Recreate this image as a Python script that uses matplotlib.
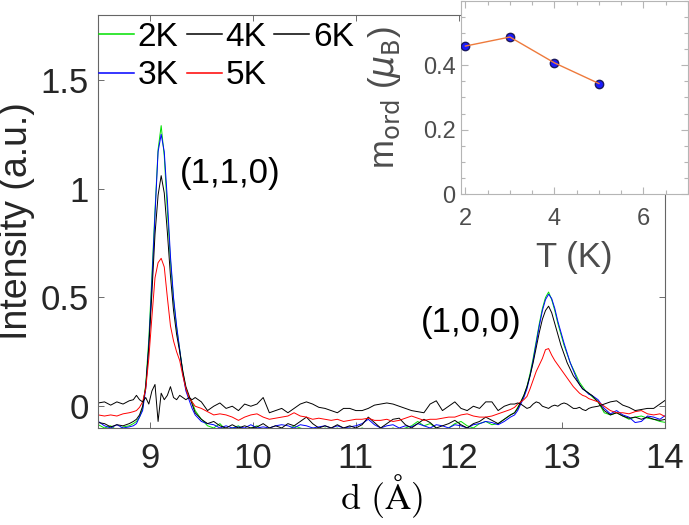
import numpy as np
import matplotlib
matplotlib.use('Agg')
from matplotlib import pyplot as plt
from matplotlib.ticker import MultipleLocator

plt.rcParams['font.family'] = ['Liberation Sans', 'DejaVu Sans']

# sampling grid of the d axis (finer across the two Bragg peaks)
d = np.round(np.concatenate([
    np.arange(8.50, 8.81, 0.06),
    np.arange(8.84, 9.45, 0.03),
    np.arange(9.50, 12.51, 0.06),
    np.arange(12.54, 13.30, 0.03),
    np.arange(13.35, 14.02, 0.06)]), 2)

# intensities, one list per temperature
I_2K = [-0.085, -0.10, -0.09, -0.11, -0.095, -0.09,
        -0.08, -0.07, -0.05, -0.01, 0.10, 0.31, 0.60, 0.90, 1.18, 1.29, 1.15,
        0.90, 0.67, 0.49, 0.36, 0.26, 0.16, 0.08, 0.04, 0.02, -0.02,
        -0.06, -0.09, -0.10, -0.08, -0.11, -0.10, -0.09, -0.11, -0.10, -0.09,
        -0.11, -0.10, -0.12, -0.10, -0.11, -0.09, -0.10, -0.11, -0.10, -0.12,
        -0.10, -0.11, -0.10, -0.12, -0.10, -0.11, -0.10, -0.11, -0.12, -0.10,
        -0.11, -0.10, -0.11, -0.10, -0.09, -0.07, -0.09, -0.08, -0.10, -0.11,
        -0.10, -0.08, -0.07, -0.09, -0.10, -0.08, -0.07, -0.085, -0.08, -0.06,
        -0.04,
        -0.03, -0.005, 0.02, 0.05, 0.09, 0.15, 0.22, 0.30, 0.38, 0.45, 0.50,
        0.525, 0.49, 0.44, 0.38, 0.33, 0.28, 0.24, 0.20, 0.17, 0.14, 0.11,
        0.09, 0.07, 0.06, 0.045,
        0.02, -0.03, -0.04, -0.03, -0.045, -0.06, -0.05, -0.045, -0.055,
        -0.06, -0.07, -0.075]
I_3K = [-0.07, -0.09, -0.10, -0.085, -0.10, -0.095,
        -0.09, -0.08, -0.05, -0.02, 0.08, 0.28, 0.57, 0.88, 1.17, 1.25, 1.17,
        0.95, 0.69, 0.50, 0.37, 0.26, 0.15, 0.07, 0.03, -0.01, -0.04,
        -0.07, -0.08, -0.085, -0.10, -0.09, -0.10, -0.095, -0.10, -0.085,
        -0.10, -0.095, -0.10, -0.09, -0.085, -0.09, -0.10, -0.085, -0.09,
        -0.10, -0.095, -0.09, -0.10, -0.09, -0.10, -0.095, -0.09, -0.08,
        -0.06, -0.085, -0.10, -0.09, -0.085, -0.10, -0.09, -0.095, -0.08,
        -0.09, -0.10, -0.085, -0.09, -0.10, -0.085, -0.09, -0.10, -0.085,
        -0.08, -0.07, -0.075, -0.085, -0.07, -0.05,
        -0.04, -0.02, 0.01, 0.04, 0.08, 0.14, 0.21, 0.29, 0.37, 0.44, 0.49,
        0.515, 0.495, 0.45, 0.39, 0.34, 0.29, 0.245, 0.20, 0.165, 0.13, 0.10,
        0.08, 0.07, 0.055, 0.05,
        0.03, -0.01, -0.035, -0.02, -0.04, -0.05, -0.075, -0.07, -0.045,
        -0.05, -0.06, -0.04]
I_4K = [-0.075, -0.08, -0.095, -0.085, -0.09, -0.08,
        -0.07, -0.06, -0.04, 0.00, 0.09, 0.27, 0.52, 0.79, 0.97, 1.06, 0.98,
        0.80, 0.60, 0.44, 0.33, 0.25, 0.16, 0.09, 0.05, 0.01, -0.03,
        -0.06, -0.08, -0.07, -0.09, -0.10, -0.085, -0.10, -0.09, -0.10,
        -0.095, -0.08, -0.10, -0.09, -0.10, -0.08, -0.09, -0.07, -0.05,
        -0.08, -0.10, -0.09, -0.10, -0.085, -0.10, -0.09, -0.10, -0.085,
        -0.05, -0.075, -0.10, -0.08, -0.06, -0.055, -0.085, -0.10, -0.08,
        -0.06, -0.075, -0.10, -0.09, -0.08, -0.065, -0.085, -0.10, -0.08,
        -0.07, -0.05, -0.065, -0.08, -0.06, -0.04,
        -0.03, -0.01, 0.02, 0.05, 0.09, 0.14, 0.20, 0.27, 0.34, 0.40, 0.44,
        0.46, 0.43, 0.38, 0.33, 0.28, 0.24, 0.20, 0.17, 0.14, 0.12, 0.10,
        0.08, 0.07, 0.06, 0.05,
        0.02, -0.02, -0.04, -0.03, -0.045, -0.055, -0.05, -0.06, -0.05,
        -0.06, -0.065, -0.06]
I_5K = [-0.04, -0.045, -0.04, -0.045, -0.035, -0.03,
        -0.025, -0.02, -0.005, 0.02, 0.08, 0.22, 0.41, 0.59, 0.66, 0.68, 0.64,
        0.50, 0.37, 0.30, 0.25, 0.21, 0.14, 0.08, 0.04, 0.02, 0.00,
        -0.01, -0.025, -0.04, -0.035, -0.04, -0.05, -0.065, -0.05, -0.04,
        -0.035, -0.05, -0.06, -0.055, -0.05, -0.045, -0.03, -0.045, -0.05,
        -0.06, -0.055, -0.06, -0.065, -0.06, -0.07, -0.065, -0.06, -0.06,
        -0.055, -0.065, -0.065, -0.06, -0.07, -0.065, -0.055, -0.045, -0.055,
        -0.065, -0.06, -0.06, -0.055, -0.05, -0.05, -0.04, -0.035, -0.045,
        -0.05, -0.05, -0.045, -0.035, -0.025, -0.015,
        -0.005, 0.01, 0.02, 0.03, 0.045, 0.08, 0.12, 0.16, 0.19, 0.22, 0.26,
        0.265, 0.235, 0.21, 0.19, 0.17, 0.15, 0.13, 0.11, 0.09, 0.075, 0.06,
        0.05, 0.045, 0.035, 0.03,
        0.02, 0.00, -0.02, -0.03, -0.03, -0.035, -0.025, -0.02, -0.035,
        -0.04, -0.035, -0.05]
I_6K = [0.015, 0.02, 0.005, 0.02, 0.01, 0.025,
        0.03, 0.05, 0.03, 0.02, 0.04, 0.01, 0.07, 0.10, -0.07, 0.06, 0.03,
        0.05, 0.09, 0.04, 0.03, 0.05, 0.04, 0.03, 0.04, 0.03, 0.04,
        0.02, -0.02, 0.00, 0.015, -0.01, 0.00, -0.02, 0.01, 0.00, 0.01,
        0.04, -0.03, -0.02, -0.01, -0.03, -0.01, 0.01, 0.02, 0.01, -0.005,
        -0.01, -0.02, -0.03, -0.01, -0.01, -0.02, -0.02, -0.01, 0.005, 0.01,
        0.015, 0.01, 0.00, -0.01, -0.02, -0.025, -0.03, 0.01, 0.025, -0.02,
        0.00, 0.02, -0.01, -0.02, 0.00, -0.01, 0.02, 0.02, -0.02, 0.00, 0.01,
        0.01, 0.015, 0.01, 0.00, -0.01, -0.005, 0.01, 0.02, 0.015, 0.00,
        -0.005, -0.01, 0.00, 0.005, 0.00, 0.01, 0.015, 0.01, 0.00, -0.01,
        -0.01, -0.005, -0.015, -0.02, -0.01, -0.005,
        0.00, 0.01, 0.02, 0.025, 0.005, -0.005, -0.02, -0.015, -0.01, -0.01,
        0.01, 0.03]

labels = ['2K', '3K', '4K', '5K', '6K']
colors = ['#00e000', '#0000ff', '#000000', '#ff0000', '#000000']

# ordered moment vs temperature (inset)
T = [2, 3, 4, 5]
m_ord = [0.459, 0.487, 0.407, 0.343]
m_err = [0.004, 0.008, 0.008, 0.004]

fig = plt.figure(figsize=(6.89, 5.25), dpi=100)
ax = fig.add_axes([0.1427, 0.1848, 0.8225, 0.7872])
for y, lab, c in zip([I_2K, I_3K, I_4K, I_5K, I_6K], labels, colors):
    ax.plot(d, y, color=c, lw=0.7, label=lab)

ax.set_xlim(8.5, 14)
ax.set_ylim(-0.1, 1.8)
ax.set_xticks([9, 10, 11, 12, 13, 14])
ax.set_yticks([0, 0.5, 1, 1.5])
ax.set_yticklabels(['0', '0.5', '1', '1.5'])
ax.tick_params(direction='in', length=4, width=0.6, color='#555555',
               labelsize=25, labelcolor='#262626', top=True, right=True)
ax.tick_params(axis='x', pad=10)
ax.tick_params(axis='y', pad=7)
for s in ax.spines.values():
    s.set_color('#666666')
    s.set_linewidth(0.8)
ax.set_ylabel('Intensity (a.u.)', fontsize=27, color='#262626', labelpad=4)
ax.set_xlabel(r'$\mathrm{d\ (\AA)}$', fontsize=26, math_fontfamily='cm',
              labelpad=-2)

ax.text(9.29, 1.07, '(1,1,0)', fontsize=25, ha='left', va='center')
ax.text(11.63, 0.385, '(1,0,0)', fontsize=25, ha='left', va='center')

leg = ax.legend(ncol=3, loc='upper left', bbox_to_anchor=(-0.004, 0.99),
                frameon=False, fontsize=24, handlelength=1.05,
                handletextpad=0.1, columnspacing=0.25, labelspacing=0.22,
                borderpad=0.1, borderaxespad=0)
for ln in leg.get_lines():
    ln.set_linewidth(1.1)

# inset
axi = fig.add_axes([0.669, 0.6299, 0.3295, 0.3691])
axi.errorbar(T, m_ord, yerr=m_err, fmt='none', ecolor='#f5a57a',
             elinewidth=1.2, capsize=3, zorder=2)
axi.plot(T, m_ord, 'o', ms=6, mfc='#1a1aff', mec='#1a1a60', mew=1, zorder=3)
axi.plot(T, m_ord, '-', color='#ee7a3c', lw=1, zorder=4)
axi.set_xlim(1.9, 7)
axi.set_ylim(0, 0.6)
axi.set_xticks([2, 4, 6])
axi.set_yticks([0, 0.2, 0.4])
axi.set_yticklabels(['0', '0.2', '0.4'])
axi.xaxis.set_minor_locator(MultipleLocator(0.5))
axi.yaxis.set_minor_locator(MultipleLocator(0.05))
axi.tick_params(which='both', direction='in', color='#b5b5b5', width=0.8,
                top=True, right=True, labelsize=17, labelcolor='#4d4d4d')
axi.tick_params(which='major', length=5)
axi.tick_params(which='minor', length=3)
axi.tick_params(axis='x', which='major', pad=10)
axi.tick_params(axis='y', which='major', pad=4)
for s in axi.spines.values():
    s.set_color('#b5b5b5')
    s.set_linewidth(0.8)
axi.set_xlabel('T (K)', fontsize=25, color='#4d4d4d', labelpad=8)
axi.set_ylabel(r'm$_{\mathrm{ord}}$ ($\mu_{\mathrm{B}}$)', fontsize=25,
               color='#4d4d4d', labelpad=14)

fig.savefig('out.png', dpi=100)
